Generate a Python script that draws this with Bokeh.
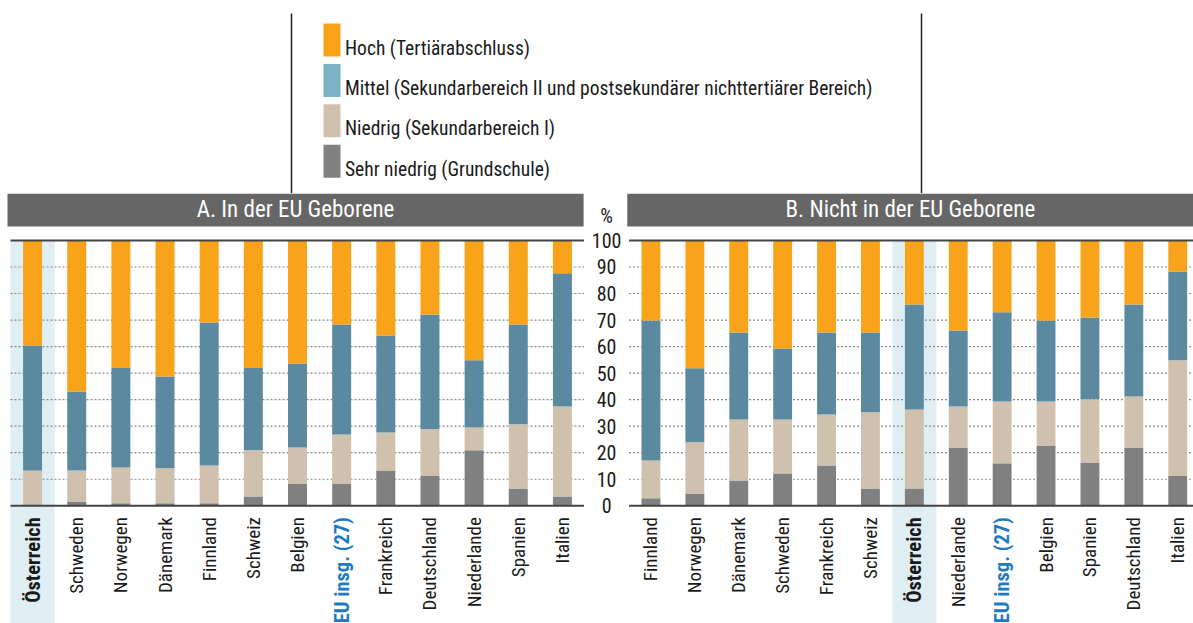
import math
from bokeh.plotting import figure
from bokeh.layouts import column, row
from bokeh.models import Range1d, ColumnDataSource
from bokeh.core.properties import value
from bokeh.embed import file_html
from bokeh.resources import INLINE

# ---------------- data ----------------
series_keys = ["sehr", "niedrig", "mittel", "hoch"]
legend_labels = [
    "Hoch (Tertiärabschluss)",
    "Mittel (Sekundarbereich II und postsekundärer nichttertiärer Bereich)",
    "Niedrig (Sekundarbereich I)",
    "Sehr niedrig (Grundschule)",
]

countries_a = ["Österreich", "Schweden", "Norwegen", "Dänemark", "Finnland", "Schweiz",
               "Belgien", "EU insg. (27)", "Frankreich", "Deutschland", "Niederlande",
               "Spanien", "Italien"]
sehr_a = [0.5, 1.6, 0.9, 0.9, 0.9, 3.5, 8.4, 8.4, 13.3, 11.4, 20.9, 6.5, 3.5]
niedrig_a = [12.8, 11.7, 13.5, 13.2, 14.3, 17.4, 13.6, 18.5, 14.3, 17.4, 8.6, 24.2, 33.9]
mittel_a = [47.1, 29.8, 37.5, 34.6, 53.9, 31.0, 31.6, 41.4, 36.6, 43.3, 25.3, 37.6, 50.2]
hoch_a = [39.6, 56.9, 48.1, 51.3, 30.9, 48.1, 46.4, 31.7, 35.8, 27.9, 45.2, 31.7, 12.4]

countries_b = ["Finnland", "Norwegen", "Dänemark", "Schweden", "Frankreich", "Schweiz",
               "Österreich", "Niederlande", "EU insg. (27)", "Belgien", "Spanien",
               "Deutschland", "Italien"]
sehr_b = [2.8, 4.6, 9.5, 12.2, 15.2, 6.5, 6.5, 22.0, 16.0, 22.7, 16.3, 22.0, 11.4]
niedrig_b = [14.3, 19.3, 23.0, 20.3, 19.2, 28.7, 29.8, 15.4, 23.3, 16.6, 23.8, 19.2, 43.4]
mittel_b = [52.7, 27.9, 32.8, 26.8, 30.9, 30.1, 39.6, 28.7, 33.6, 30.5, 30.9, 34.7, 33.5]
hoch_b = [30.2, 48.2, 34.7, 40.7, 34.7, 34.7, 24.1, 33.9, 27.1, 30.2, 29.0, 24.1, 11.7]

y_ticks = [0, 10, 20, 30, 40, 50, 60, 70, 80, 90, 100]
title_a = "A. In der EU Geborene"
title_b = "B. Nicht in der EU Geborene"
highlight = "Österreich"
eu_label = "EU insg. (27)"

# ---------------- style ----------------
FONT = "Roboto Condensed"
C_HOCH = "#F9A31B"
C_MITTEL = "#5B8AA0"
C_NIEDRIG = "#D0C1AE"
C_SEHR = "#808080"
C_MITTEL_LEG = "#7AB4C4"
C_HEADER = "#666666"
C_BAND = "#DFEEF2"
C_EU = "#1F7BC1"
C_TEXT = "#1a1a1a"
BAR_COLORS = [C_SEHR, C_NIEDRIG, C_MITTEL, C_HOCH]
LEG_COLORS = [C_HOCH, C_MITTEL_LEG, C_NIEDRIG, C_SEHR]

PANEL_H = 430
Y_TOP = 117.7
Y_BOT = -44.38
HEAD_BOT = 105.3
HEAD_MID = 111.5
LABEL_Y = -4.3
BAR_W = 0.43


def make_panel(title, countries, sehr, niedrig, mittel, hoch, width, x_start, x_end,
               line_x0, head_left, head_right, with_y_labels):
    n = len(countries)
    xs = [i + 0.5 for i in range(n)]
    emph = [c in (highlight, eu_label) for c in countries]
    colors = [C_EU if c == eu_label else C_TEXT for c in countries]
    styles = ["bold" if e else "normal" for e in emph]
    sizes = ["20.5px" if e else "19px" for e in emph]
    src = ColumnDataSource(dict(x=xs, sehr=sehr, niedrig=niedrig, mittel=mittel, hoch=hoch,
                                label=countries, label_color=colors, label_style=styles,
                                label_size=sizes))
    p = figure(width=width, height=PANEL_H, x_range=Range1d(x_start, x_end),
               y_range=Range1d(Y_BOT, Y_TOP), output_backend="svg", toolbar_location=None,
               min_border=0, x_axis_location=None, y_axis_location=None,
               outline_line_color=None)
    p.grid.visible = False

    # highlight band
    idx = countries.index(highlight)
    p.quad(left=[idx], right=[idx + 1], bottom=[Y_BOT], top=[100],
           fill_color=C_BAND, line_color=None)

    # dotted gridlines
    g = y_ticks[1:-1]
    p.segment(x0=[line_x0] * len(g), x1=[x_end] * len(g), y0=g, y1=g,
              line_color="#8a8a8a", line_width=1.2, line_dash="2 2")

    # bars
    p.vbar_stack(series_keys, x="x", width=BAR_W, fill_color=BAR_COLORS,
                 line_color=None, source=src)

    # frame lines at 0 and 100
    p.segment(x0=[line_x0, line_x0], x1=[x_end, x_end], y0=[0, 100], y1=[0, 100],
              line_color="#444444", line_width=2)

    # header
    p.quad(left=[head_left], right=[head_right], bottom=[HEAD_BOT], top=[Y_TOP],
           fill_color=C_HEADER, line_color=None)
    p.text(x=[(head_left + head_right) / 2], y=[HEAD_MID], text=[title],
           text_color="white", text_font=value(FONT), text_font_size="23px",
           text_align="center", text_baseline="middle")

    # category labels
    p.text(x="x", y=LABEL_Y, text="label", angle=math.pi / 2, text_align="right",
           text_baseline="middle", text_color="label_color", text_font_style="label_style",
           text_font=value(FONT), text_font_size="label_size", source=src)

    if with_y_labels:
        ylx = -0.51
        p.text(x=[ylx] * len(y_ticks), y=y_ticks, text=[str(t) for t in y_ticks],
               text_color=C_TEXT, text_font=value(FONT), text_font_size="20px",
               text_align="center", text_baseline="middle")
        p.text(x=[ylx], y=[109.4], text=["%"], text_color=C_TEXT, text_font=value(FONT),
               text_font_size="20px", text_align="center", text_baseline="middle")
    return p


pA = make_panel(title_a, countries_a, sehr_a, niedrig_a, mittel_a, hoch_a,
                width=584, x_start=-0.2265, x_end=13.0, line_x0=0.0,
                head_left=-0.068, head_right=12.98, with_y_labels=False)
pB = make_panel(title_b, countries_b, sehr_b, niedrig_b, mittel_b, hoch_b,
                width=609, x_start=-1.014, x_end=12.859, line_x0=0.0,
                head_left=-0.04, head_right=12.859, with_y_labels=True)

# ---------------- top (legend + dividers) ----------------
top = figure(width=1193, height=193, x_range=Range1d(0, 1193), y_range=Range1d(193, 0),
             output_backend="svg", toolbar_location=None, min_border=0,
             x_axis_location=None, y_axis_location=None, outline_line_color=None)
top.grid.visible = False
top.segment(x0=[291, 921], x1=[291, 921], y0=[13, 13], y1=[193, 193],
            line_color="#222222", line_width=1.5)
sw_top = [23 + 40.4 * i for i in range(len(legend_labels))]
sw_bot = [t + 33 for t in sw_top]
top.quad(left=[323] * 4, right=[340] * 4, top=sw_top, bottom=sw_bot,
         fill_color=LEG_COLORS, line_color=None)
top.text(x=[344.5] * 4, y=[t + 24.5 for t in sw_top], text=legend_labels,
         text_color=C_TEXT, text_font=value(FONT), text_font_size="19.5px",
         text_align="left", text_baseline="middle")

layout = column(top, row(pA, pB))
open("out.html", "w").write(file_html(layout, INLINE))
